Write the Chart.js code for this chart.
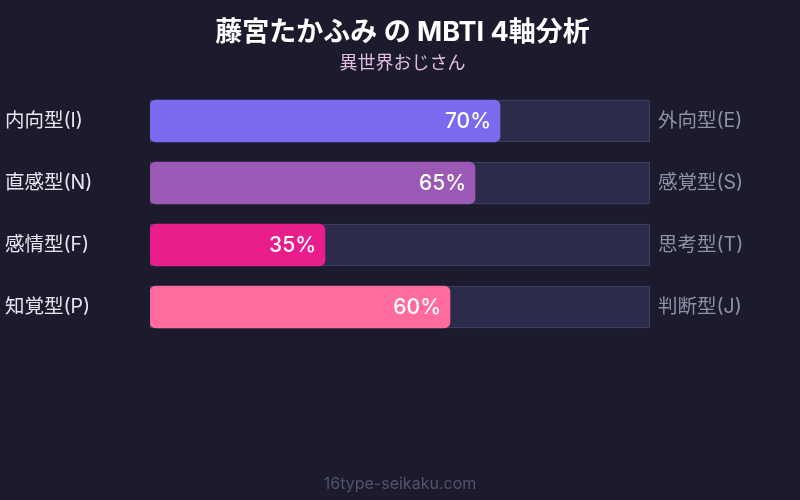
<!DOCTYPE html>
<html>
<head>
<meta charset="utf-8">
<script src="https://cdn.jsdelivr.net/npm/chart.js@4"></script>
<style>
  body { margin: 0; background: #1b1b2d; }
  #wrap { width: 800px; height: 500px; }
</style>
</head>
<body>
<div id="wrap"><canvas id="myChart"></canvas></div>
<script>
'use strict';
// chart data
let leftLabels = ['内向型(I)', '直感型(N)', '感情型(F)', '知覚型(P)'];
let rightLabels = ['外向型(E)', '感覚型(S)', '思考型(T)', '判断型(J)'];
let scores = [70, 65, 35, 60];
let trackValues = [100, 100, 100, 100];
let barColors = ['#7b6aee', '#9b59b6', '#e91e8c', '#ff6b9d'];

let fontFamily = "'Inter', 'Noto Sans CJK JP', sans-serif";

// draws the % text inside each bar
let valueLabels = {
  id: 'valueLabels',
  afterDatasetsDraw(chart) {
    let ctx = chart.ctx;
    let meta = chart.getDatasetMeta(0);
    ctx.save();
    ctx.font = '500 21px ' + fontFamily;
    ctx.fillStyle = '#ffffff';
    ctx.textAlign = 'right';
    ctx.textBaseline = 'middle';
    meta.data.forEach((bar, i) => {
      ctx.fillText(scores[i] + '%', bar.x - 9, bar.y + 1);
    });
    ctx.restore();
  }
};

// footer site name
let footerText = {
  id: 'footerText',
  afterDraw(chart) {
    let ctx = chart.ctx;
    ctx.save();
    ctx.font = '16px ' + fontFamily;
    ctx.fillStyle = '#52526e';
    ctx.textAlign = 'center';
    ctx.textBaseline = 'middle';
    ctx.fillText('16type-seikaku.com', chart.width / 2, 484);
    ctx.restore();
  }
};

let ctx = document.getElementById('myChart').getContext('2d');
let myChart = new Chart(ctx, {
  type: 'bar',
  data: {
    labels: leftLabels,
    datasets: [{
      data: scores,
      backgroundColor: barColors,
      borderRadius: 6,
      borderSkipped: false,
      barThickness: 42,
      grouped: false,
      order: 0
    },
    {
      data: trackValues,
      backgroundColor: '#2c2b4a',
      borderColor: '#46456a',
      borderWidth: 1,
      borderSkipped: false,
      barThickness: 42,
      grouped: false,
      order: 1
    }]
  },
  options: {
    indexAxis: 'y',
    responsive: true,
    maintainAspectRatio: false,
    animation: false,
    layout: { padding: { left: 5, right: 0, top: 0, bottom: 162 } },
    scales: {
      x: { display: false, min: 0, max: 100 },
      y: {
        position: 'left',
        grid: { display: false, drawTicks: false },
        border: { display: false },
        afterFit(scale) { scale.width = 145; },
        ticks: {
          crossAlign: 'far',
          color: '#e6e6f0',
          font: { size: 19.5, family: fontFamily }
        }
      },
      y2: {
        position: 'right',
        type: 'category',
        labels: rightLabels,
        grid: { display: false, drawTicks: false },
        border: { display: false },
        afterFit(scale) { scale.width = 150; },
        ticks: {
          padding: 8,
          color: '#9090a8',
          font: { size: 19.5, family: fontFamily }
        }
      }
    },
    plugins: {
      legend: { display: false },
      tooltip: { enabled: false },
      title: {
        display: true,
        text: '藤宮たかふみ の MBTI 4軸分析',
        color: '#ffffff',
        font: { size: 27, weight: 'bold', family: fontFamily },
        padding: { top: 17, bottom: 3 }
      },
      subtitle: {
        display: true,
        text: '異世界おじさん',
        color: '#e3bde3',
        font: { size: 18, family: fontFamily },
        padding: { top: 0, bottom: 16 }
      }
    }
  },
  plugins: [valueLabels, footerText]
});
</script>
</body>
</html>
